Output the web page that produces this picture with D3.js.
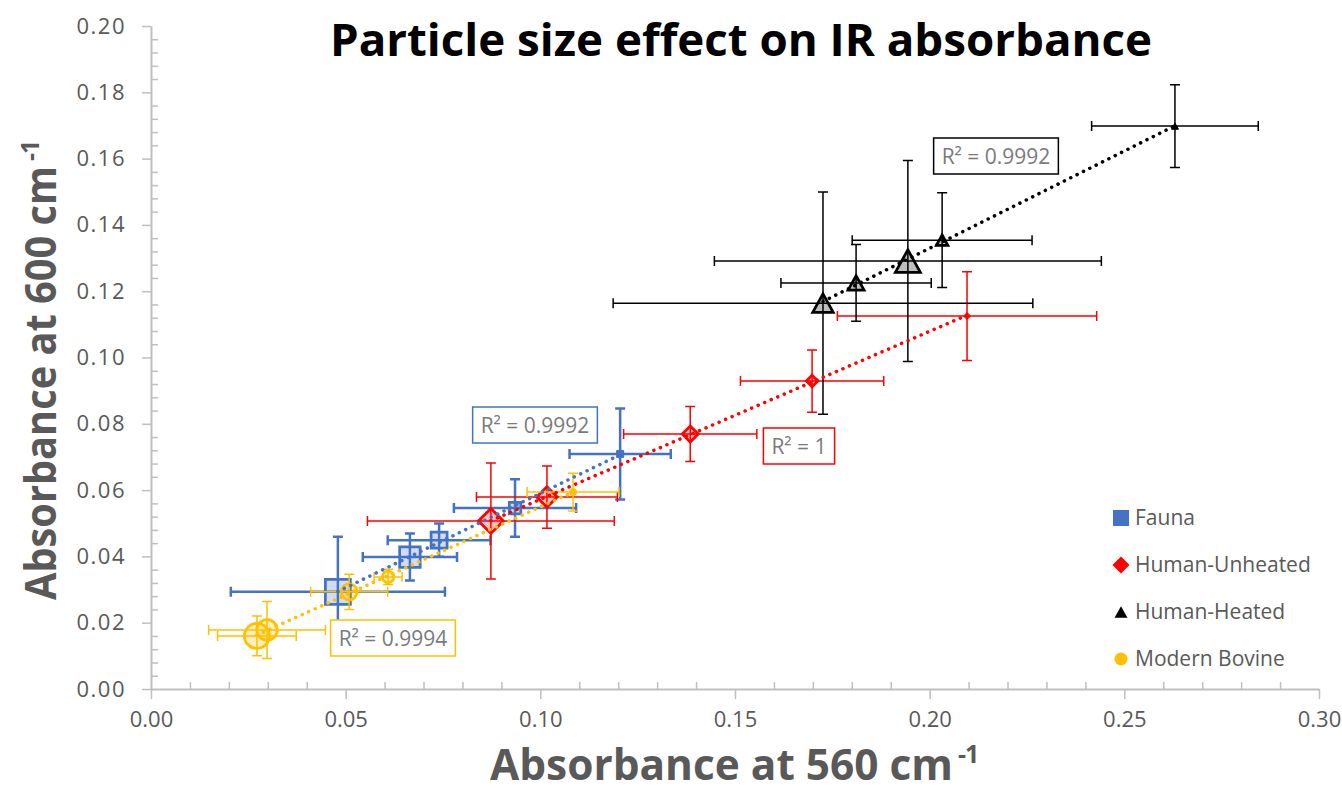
<!DOCTYPE html>
<html>
<head>
<meta charset="utf-8">
<script src="https://cdn.jsdelivr.net/npm/d3@7"></script>
<style>
  body { margin: 0; background: #fff; }
</style>
</head>
<body>
<script>
// values; index 0 = coarsest fraction (biggest marker), 4 = finest

const seriesNames = ["Fauna", "Human-Unheated", "Human-Heated", "Modern Bovine"];

const faunaX    = [0.0480, 0.0665, 0.0740, 0.0935, 0.1205];
const faunaY    = [0.0293, 0.0398, 0.0449, 0.0546, 0.0709];
const faunaXErr = [0.0275, 0.0121, 0.0132, 0.0157, 0.0130];
const faunaYErr = [0.0166, 0.0071, 0.0050, 0.0087, 0.0137];

const unheatedX    = [0.0873, 0.1017, 0.1385, 0.1698, 0.2096];
const unheatedY    = [0.0507, 0.0579, 0.0769, 0.0929, 0.1125];
const unheatedXErr = [0.0317, 0.0181, 0.0171, 0.0184, 0.0333];
const unheatedYErr = [0.0175, 0.0094, 0.0083, 0.0094, 0.0134];

const heatedX    = [0.1944, 0.1726, 0.1811, 0.2032, 0.2630];
const heatedY    = [0.1291, 0.1164, 0.1225, 0.1354, 0.1698];
const heatedXErr = [0.0497, 0.0539, 0.0193, 0.0231, 0.0214];
const heatedYErr = [0.0303, 0.0335, 0.0116, 0.0143, 0.0125];

const bovineX    = [0.0272, 0.0298, 0.0509, 0.0609, 0.1084];
const bovineY    = [0.0160, 0.0178, 0.0293, 0.0338, 0.0594];
const bovineXErr = [0.0101, 0.0150, 0.0099, 0.0036, 0.0118];
const bovineYErr = [0.0060, 0.0086, 0.0053, 0.0023, 0.0057];

const rSquared = ["0.9992", "1", "0.9992", "0.9994"];

const xTicks = [0, 0.05, 0.10, 0.15, 0.20, 0.25, 0.30];
const yTicks = [0, 0.02, 0.04, 0.06, 0.08, 0.10, 0.12, 0.14, 0.16, 0.18, 0.20];
const xMinor = [0.01,0.02,0.03,0.04,0.06,0.07,0.08,0.09,0.11,0.12,0.13,0.14,0.16,0.17,0.18,0.19,0.21,0.22,0.23,0.24,0.26,0.27,0.28,0.29];
const yMinor = [0.004,0.008,0.012,0.016,0.024,0.028,0.032,0.036,0.044,0.048,0.052,0.056,0.064,0.068,0.072,0.076,
                0.084,0.088,0.092,0.096,0.104,0.108,0.112,0.116,0.124,0.128,0.132,0.136,0.144,0.148,0.152,0.156,
                0.164,0.168,0.172,0.176,0.184,0.188,0.192,0.196];


function makePoints(xs, ys, exs, eys) {
  return xs.map((x, i) => ({ x: x, y: ys[i], ex: exs[i], ey: eys[i], frac: i }));
}

const series = [
  { name: seriesNames[0], color: "#4472C4", shape: "square",   bar: 2.5, pts: makePoints(faunaX, faunaY, faunaXErr, faunaYErr) },
  { name: seriesNames[1], color: "#FF0000", shape: "diamond",  bar: 1.5, pts: makePoints(unheatedX, unheatedY, unheatedXErr, unheatedYErr) },
  { name: seriesNames[2], color: "#000000", shape: "triangle", bar: 1.5, pts: makePoints(heatedX, heatedY, heatedXErr, heatedYErr) },
  { name: seriesNames[3], color: "#FFC000", shape: "circle",   bar: 1.5, pts: makePoints(bovineX, bovineY, bovineXErr, bovineYErr) }
];

// R² box centres (pixels), roughly where Excel left them
const labelSpots = [[535, 425], [799, 446], [996, 156], [393, 638]];

const W = 1342, H = 793;
const svg = d3.select("body").append("svg")
  .attr("width", W)
  .attr("height", H)
  .style("font-family", "'Open Sans', sans-serif");

const x = d3.scaleLinear().domain([0, 0.3]).range([151, 1319]);
const y = d3.scaleLinear().domain([0, 0.2]).range([689, 26]);
const markerSize = d3.scaleLinear().domain([0, 4]).range([25, 7]);

// axes
const axisColor = "#bfbfbf";

const gx = svg.append("g").attr("transform", "translate(0,689)")
  .call(d3.axisBottom(x).tickValues(xTicks).tickFormat(d3.format(".2f")).tickSizeInner(10).tickSizeOuter(0).tickPadding(12));
svg.append("g").attr("transform", "translate(0,689)")
  .call(d3.axisBottom(x).tickValues(xMinor).tickFormat("").tickSizeInner(-7).tickSizeOuter(0))
  .call(g => g.select(".domain").remove());

const gy = svg.append("g").attr("transform", "translate(151,0)")
  .call(d3.axisLeft(y).tickValues(yTicks).tickFormat(d3.format(".2f")).tickSizeInner(9).tickSizeOuter(0).tickPadding(16));
svg.append("g").attr("transform", "translate(151,0)")
  .call(d3.axisLeft(y).tickValues(yMinor).tickFormat("").tickSizeInner(-7).tickSizeOuter(0))
  .call(g => g.select(".domain").remove());

svg.selectAll(".domain").attr("stroke", axisColor).attr("stroke-width", 2);
svg.selectAll(".tick line").attr("stroke", axisColor).attr("stroke-width", 1.5);
svg.selectAll(".tick text")
  .attr("fill", "#595959")
  .style("font-size", "22px")
  .style("font-family", "'Open Sans', sans-serif");
gy.selectAll(".tick text").style("letter-spacing", "1.5px");

// error bars + markers, series by series
function shapePath(shape, s) {
  const h = s / 2;
  if (shape === "square") return `M${-h},${-h}H${h}V${h}H${-h}Z`;
  if (shape === "diamond") return `M0,${-h}L${h},0L0,${h}L${-h},0Z`;
  if (shape === "triangle") { const t = s * 0.45; return `M0,${-t}L${h},${t}L${-h},${t}Z`; }
  return d3.arc()({ innerRadius: 0, outerRadius: h, startAngle: 0, endAngle: 2 * Math.PI });
}

const cap = 5;
series.forEach(sr => {
  const g = svg.append("g");
  const bars = g.selectAll("g.err").data(sr.pts).enter().append("g")
    .attr("stroke", sr.color).attr("stroke-width", sr.bar).attr("fill", "none");

  bars.append("path").attr("d", d => {
    const cx = x(d.x), cy = y(d.y);
    const x0 = x(d.x - d.ex), x1 = x(d.x + d.ex);
    const y0 = y(d.y + d.ey), y1 = y(d.y - d.ey);
    return `M${x0},${cy}H${x1}M${x0},${cy - cap}V${cy + cap}M${x1},${cy - cap}V${cy + cap}` +
           `M${cx},${y0}V${y1}M${cx - cap},${y0}H${cx + cap}M${cx - cap},${y1}H${cx + cap}`;
  });

  g.selectAll("path.mk").data(sr.pts).enter().append("path")
    .attr("class", "mk")
    .attr("transform", d => `translate(${x(d.x)},${y(d.y)})`)
    .attr("d", d => shapePath(sr.shape, markerSize(d.frac)))
    .attr("fill", sr.color)
    .attr("fill-opacity", d => d.frac === 4 ? 1 : 0.25)
    .attr("stroke", sr.color)
    .attr("stroke-width", d => d.frac === 4 ? 1 : 2.75);
});

// linear trendlines (least squares over each series)
series.forEach(sr => {
  const mx = d3.mean(sr.pts, d => d.x), my = d3.mean(sr.pts, d => d.y);
  const sxy = d3.sum(sr.pts, d => (d.x - mx) * (d.y - my));
  const sxx = d3.sum(sr.pts, d => (d.x - mx) * (d.x - mx));
  const b = sxy / sxx, a = my - b * mx;
  const ext = d3.extent(sr.pts, d => d.x);
  svg.append("line")
    .attr("x1", x(ext[0])).attr("y1", y(a + b * ext[0]))
    .attr("x2", x(ext[1])).attr("y2", y(a + b * ext[1]))
    .attr("stroke", sr.color)
    .attr("stroke-width", 3.5)
    .attr("stroke-linecap", "round")
    .attr("stroke-dasharray", "0.1 7");
});

// R² labels
series.forEach((sr, i) => {
  const g = svg.append("g").attr("transform", `translate(${labelSpots[i][0]},${labelSpots[i][1]})`);
  const t = g.append("text")
    .attr("text-anchor", "middle")
    .attr("dy", "0.36em")
    .attr("fill", "#7a7a7a")
    .style("font-size", "21px")
    .text("R² = " + rSquared[i]);
  const bb = t.node().getBBox();
  g.insert("rect", "text")
    .attr("x", bb.x - 8).attr("y", -18)
    .attr("width", bb.width + 16).attr("height", 36)
    .attr("fill", "#fff")
    .attr("stroke", sr.color)
    .attr("stroke-width", 1.5);
});

// legend
const legend = svg.append("g").attr("transform", "translate(1121,518)");
const li = legend.selectAll("g").data(series).enter().append("g")
  .attr("transform", (d, i) => `translate(0,${i * 47})`);
li.append("path")
  .attr("d", d => shapePath(d.shape, d.shape === "square" ? 16 : d.shape === "diamond" ? 17 : 13))
  .attr("fill", d => d.color);
li.append("text")
  .attr("x", 14)
  .attr("dy", "0.35em")
  .attr("fill", "#595959")
  .style("font-size", "21px")
  .text(d => d.name);

// titles
svg.append("text")
  .attr("x", 741).attr("y", 56)
  .attr("text-anchor", "middle")
  .attr("textLength", 822)
  .attr("lengthAdjust", "spacingAndGlyphs")
  .style("font-size", "45px")
  .style("font-weight", "bold")
  .attr("fill", "#000")
  .text("Particle size effect on IR absorbance");

// axis titles: main part squeezed to the width Excel gives it, superscript set after it
function axisTitle(g, label, len) {
  g.append("text")
    .attr("x", 0).attr("y", 0)
    .attr("textLength", len)
    .attr("lengthAdjust", "spacingAndGlyphs")
    .attr("fill", "#595959")
    .style("font-size", "43px")
    .style("font-weight", "bold")
    .text(label);
  g.append("text")
    .attr("x", len + 5).attr("y", -17)
    .attr("fill", "#595959")
    .style("font-size", "25px")
    .style("font-weight", "bold")
    .style("letter-spacing", "-1px")
    .text("-1");
}

axisTitle(svg.append("g").attr("transform", "translate(490,780)"), "Absorbance at 560 cm", 463);
axisTitle(svg.append("g").attr("transform", "translate(56,600) rotate(-90)"), "Absorbance at 600 cm", 434);
</script>
</body>
</html>
